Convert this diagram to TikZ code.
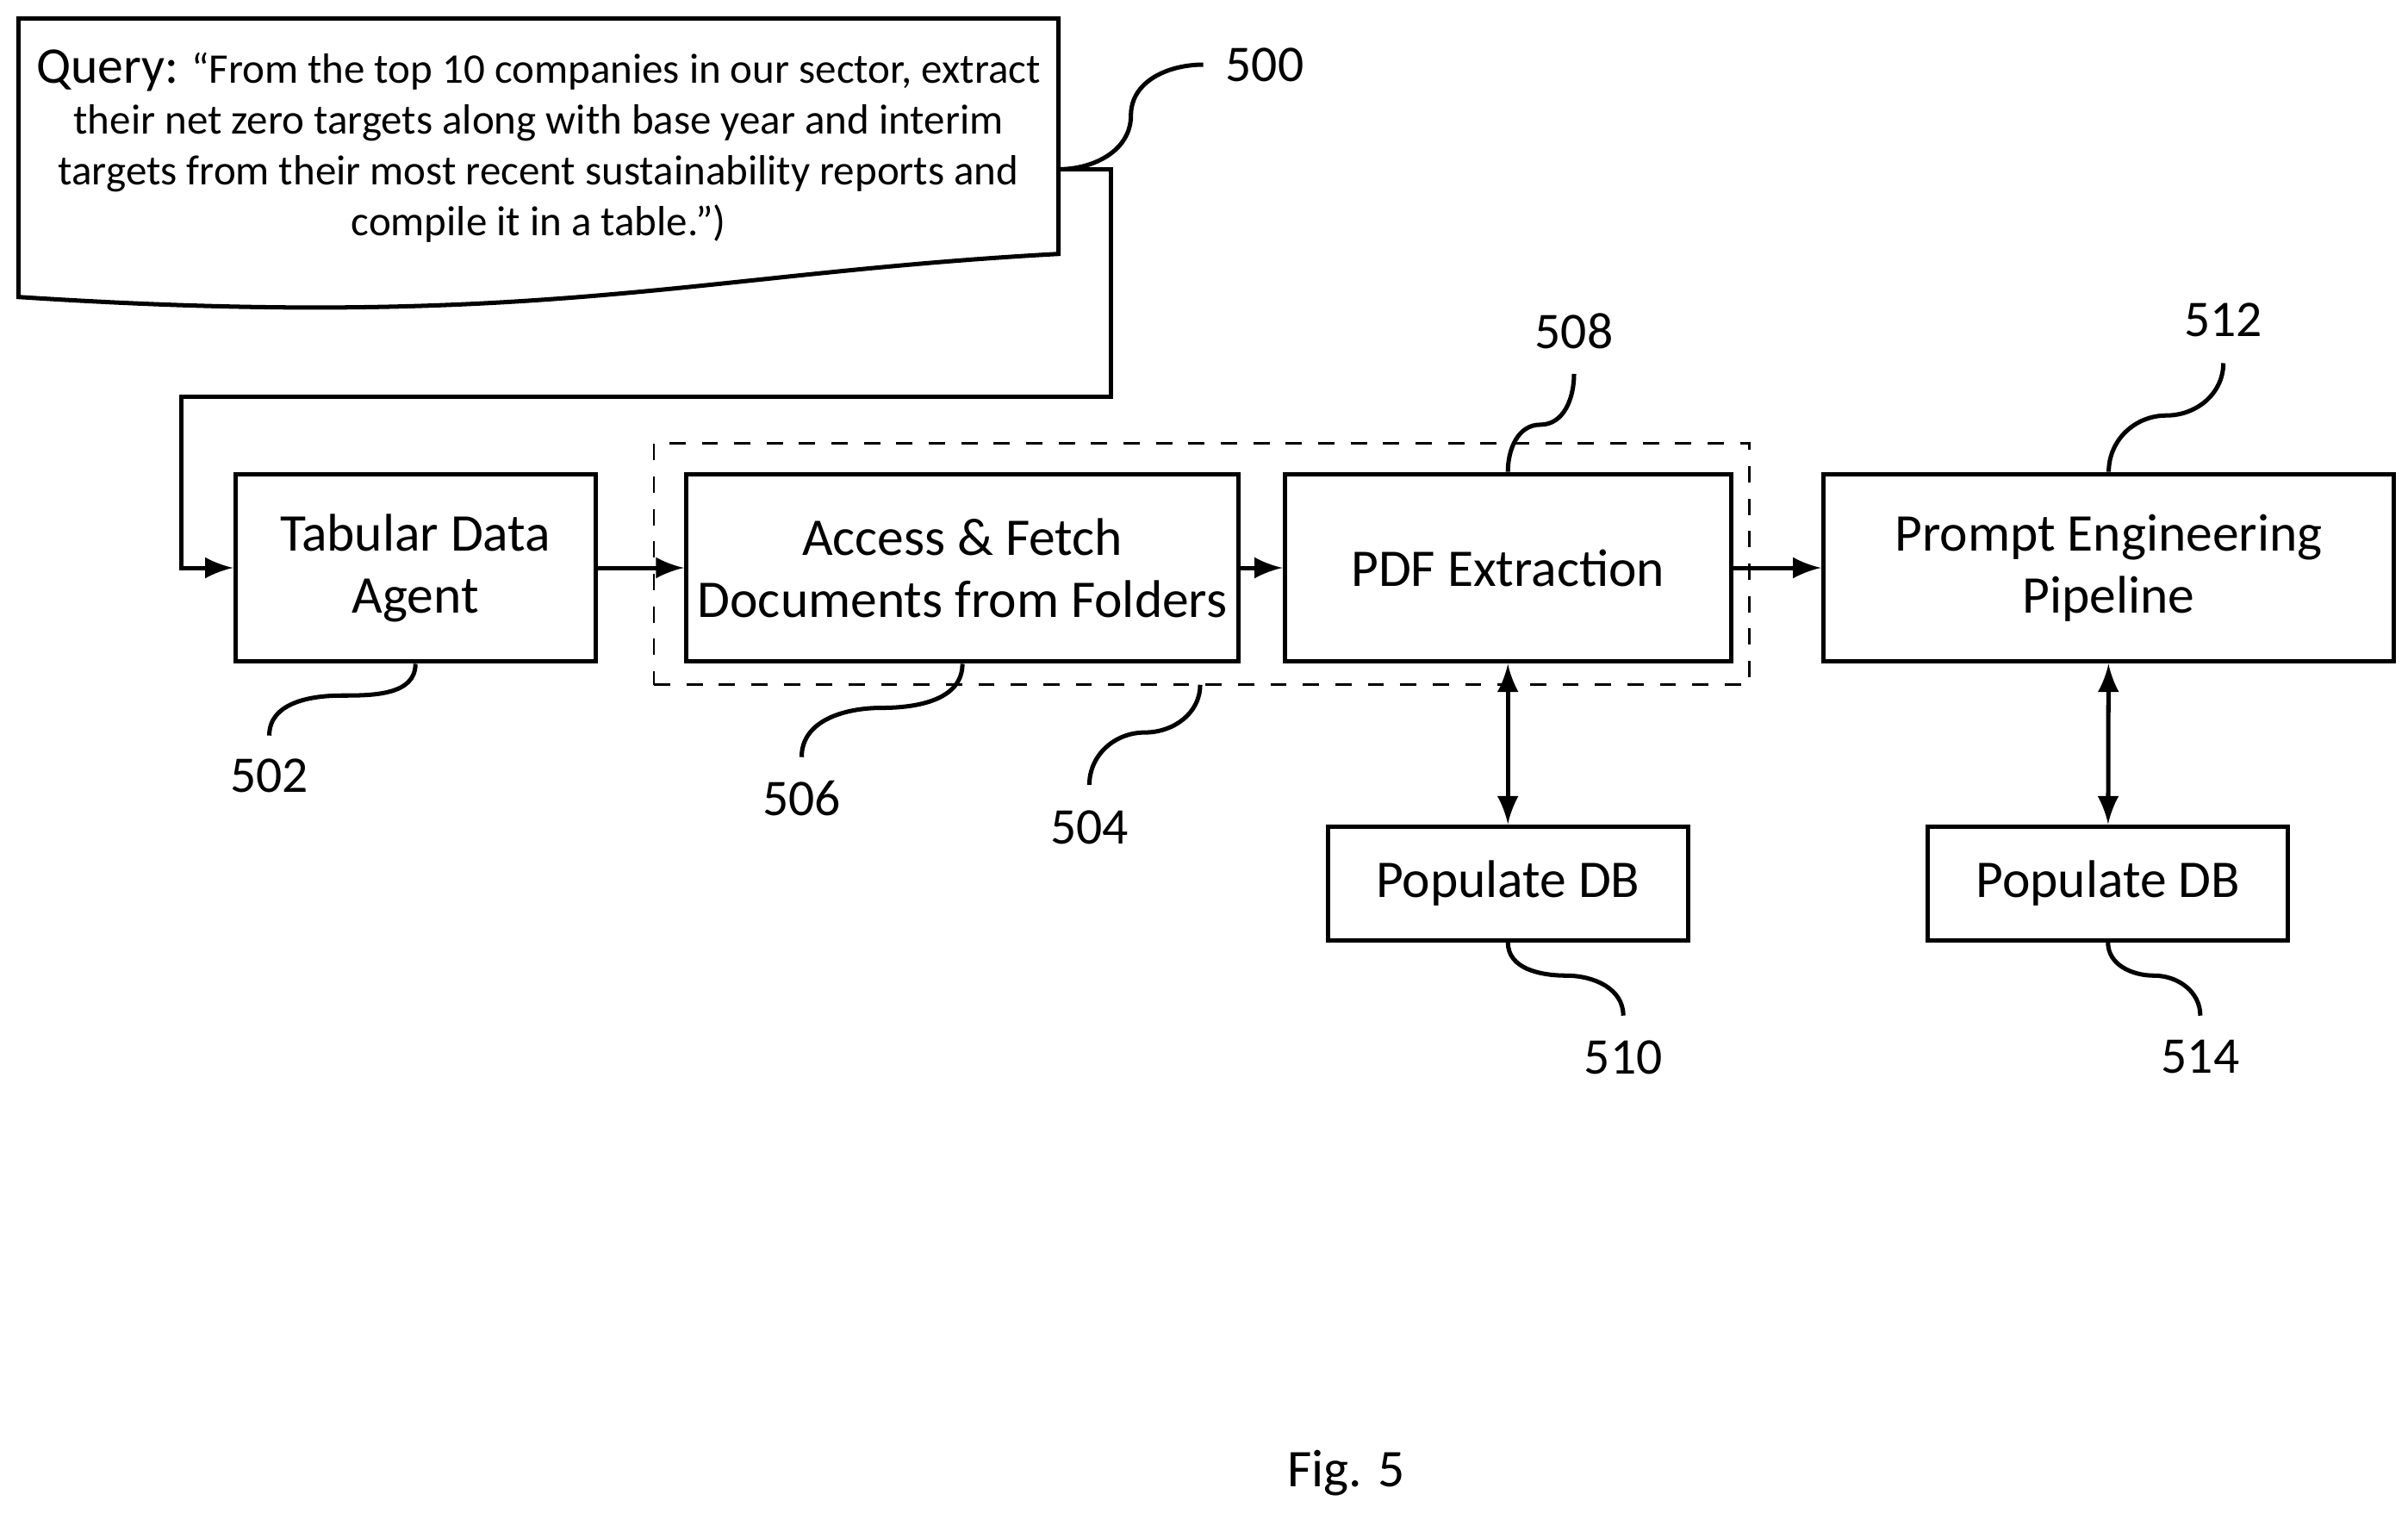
\documentclass[tikz,border=0pt]{standalone}
\usepackage{fontspec}
\setmainfont{Carlito}
\usetikzlibrary{arrows,positioning,calc}
\begin{document}
\begin{tikzpicture}[x=0.1mm, y=-0.1mm, align=center, font=\fontsize{9.8}{11.5}\selectfont]
    \tikzset{
        blk/.style      =   { rectangle
                            , draw=black
                            , thick
                            , inner sep=0pt
        }
        , arrow/.style  =   { thick
                            , -latex
        }
        , lead/.style   =   { thick
        }
        , num/.style    =   { font=\fontsize{9.5}{11}\selectfont
        }
    }
    \useasboundingbox (0,0) rectangle (1565,983);

    % query document
    \draw[thick] (12,12) -- (688,12) -- (688,165)
        .. controls (450,178) and (350,215) .. (12,193) -- cycle;
    \node(query) at (350,95) [font=\fontsize{7.8}{9.4}\selectfont]
        {{\fontsize{9.5}{11}\selectfont Query:} ``From the top 10 companies in our sector, extract\\
         their net zero targets along with base year and interim\\
         targets from their most recent sustainability reports and\\
         compile it in a table.'')};
    \coordinate(qout) at (688,110);

    % blocks
    \node(group)[blk, dashed, thin, minimum width=71.2mm, minimum height=15.7mm] at (781,366.5) {};
    \node(agent) [blk, minimum width=23.4mm, minimum height=12.2mm] at (270,369) {Tabular Data\\Agent};
    \node(fetch) [blk, minimum width=35.9mm, minimum height=12.2mm] at (625.5,369) {Access \& Fetch\\Documents from Folders};
    \node(pdf)   [blk, minimum width=29mm,   minimum height=12.2mm] at (980,369) {PDF Extraction};
    \node(prompt)[blk, minimum width=37.1mm, minimum height=12.2mm] at (1370.5,369) {Prompt Engineering\\Pipeline};
    \node(dbA)   [blk, minimum width=23.4mm, minimum height=7.4mm] at (980,574) {Populate DB};
    \node(dbB)   [blk, minimum width=23.4mm, minimum height=7.4mm] at (1370,574) {Populate DB};

    \draw[arrow] (qout) -| (722,258) -| (118,369) -- (agent.west);
    \draw[arrow] (agent) -- (fetch);
    \draw[arrow] (fetch) -- (pdf);
    \draw[arrow] (pdf) -- (prompt);
    \draw[arrow, latex-latex] (pdf) -- (dbA);
    \draw[arrow, latex-latex] (prompt) -- (dbB);

    % reference numerals
    \node(n500)[num] at (822,42)   {500};
    \node(n502)[num] at (175,504)  {502};
    \node(n504)[num] at (708,538)  {504};
    \node(n506)[num] at (521,519)  {506};
    \node(n508)[num] at (1023,215) {508};
    \node(n510)[num] at (1055,687) {510};
    \node(n512)[num] at (1445,208) {512};
    \node(n514)[num] at (1430,687) {514};

    \draw[lead] (qout) to[out=0,in=270] (735,75) to[out=90,in=180] (782,42);
    \draw[lead] (agent.south) to[out=270,in=0] (222,452) to[out=180,in=90] (175,478);
    \draw[lead] (fetch.south) to[out=270,in=0] (573,460) to[out=180,in=90] (521,492);
    \draw[lead] (780,445) to[out=270,in=0] (744,476) to[out=180,in=90] (708,510);
    \draw[lead] (pdf.north) to[out=90,in=180] (1001,276) to[out=0,in=270] (1023,243);
    \draw[lead] (dbA.south) to[out=270,in=180] (1018,634) to[out=0,in=90] (1055,660);
    \draw[lead] (prompt.north) to[out=90,in=180] (1408,270) to[out=0,in=270] (1445,236);
    \draw[lead] (dbB.south) to[out=270,in=180] (1400,634) to[out=0,in=90] (1430,660);

    \node(fig) at (875,957) {Fig. 5};
\end{tikzpicture}
\end{document}
